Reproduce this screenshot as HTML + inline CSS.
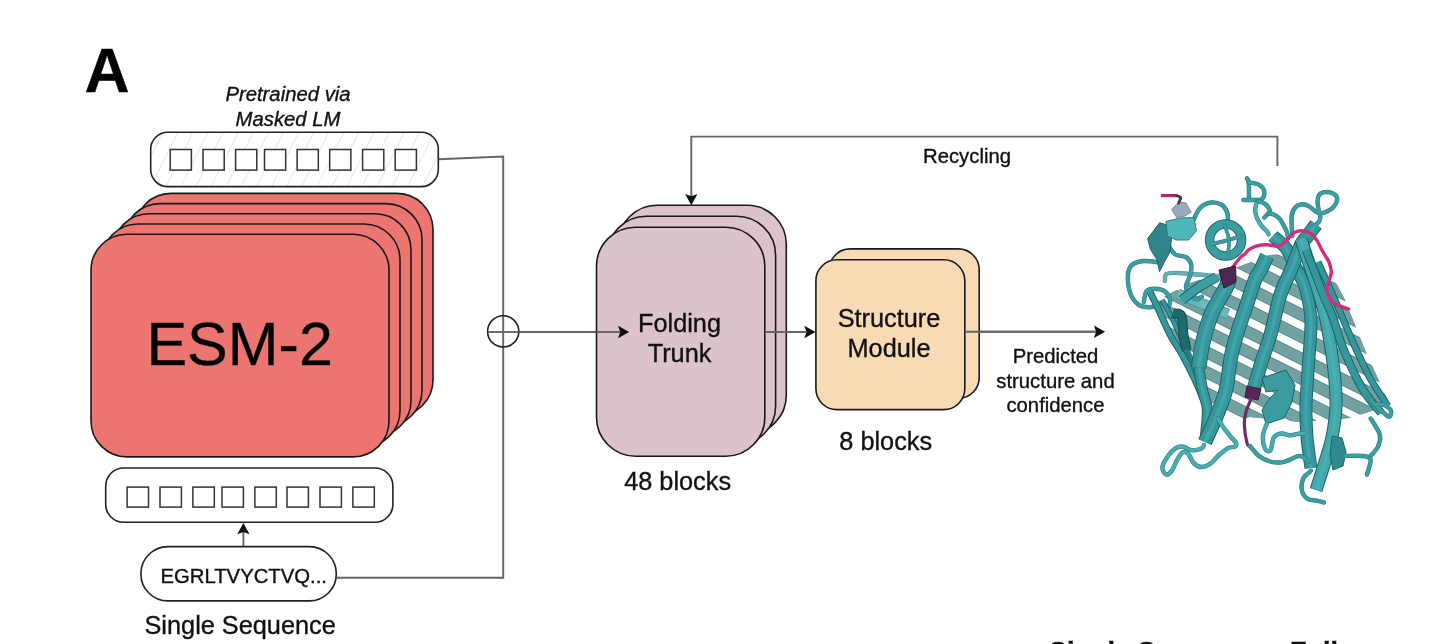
<!DOCTYPE html>
<html><head><meta charset="utf-8">
<style>
html,body{margin:0;padding:0;background:#fff;width:1432px;height:644px;overflow:hidden}
svg{display:block;font-family:"Liberation Sans",sans-serif;will-change:transform}
text{stroke:#111;stroke-width:0.35px}
</style></head>
<body>
<svg width="1432" height="644" viewBox="0 0 1432 644">
<defs>
<pattern id="hatch" patternUnits="userSpaceOnUse" width="13.5" height="13.5" patternTransform="translate(2,0) rotate(26.6)">
<line x1="0" y1="0" x2="0" y2="13.5" stroke="#bde3da" stroke-width="1.2"/>
</pattern>
<path id="ah" d="M0,0 L-11.2,-6.2 L-9,0 L-11.2,6.2 Z" fill="#111"/>
</defs>

<!-- Label A -->
<text x="84.5" y="91.5" font-size="62.5" font-weight="bold" fill="#000">A</text>

<!-- Pretrained via Masked LM -->
<text x="288" y="100.7" font-size="20.3" font-style="italic" text-anchor="middle" fill="#111">Pretrained via</text>
<text x="288" y="125.6" font-size="20.3" font-style="italic" text-anchor="middle" fill="#111">Masked LM</text>

<!-- connectors (gray lines) -->
<g fill="none" stroke="#666" stroke-width="1.9">
<polyline points="438.5,159.2 503.2,156.6 503.2,577.7 336.3,577.7"/>
<line x1="518.8" y1="332" x2="620" y2="332"/>
<line x1="765" y1="332" x2="806" y2="332"/>
<line x1="966" y1="331.8" x2="1096" y2="331.8"/>
<polyline points="1277.4,166 1277.4,136.6 691.3,136.6 691.3,196"/>
<line x1="243.4" y1="546" x2="243.4" y2="532"/>
</g>

<!-- top token box -->
<rect x="150.7" y="132.3" width="287.6" height="54.3" rx="17" fill="url(#hatch)" stroke="#222" stroke-width="1.6"/>
<g fill="#fff" stroke="#333" stroke-width="1.5">
<rect x="170.2" y="149.5" width="21.2" height="20.6"/>
<rect x="203" y="149.5" width="21.2" height="20.6"/>
<rect x="235.6" y="149.5" width="21.2" height="20.6"/>
<rect x="264.5" y="149.5" width="21.2" height="20.6"/>
<rect x="297.1" y="149.5" width="21.2" height="20.6"/>
<rect x="329.7" y="149.5" width="21.2" height="20.6"/>
<rect x="362.6" y="149.5" width="21.2" height="20.6"/>
<rect x="395.2" y="149.5" width="21.2" height="20.6"/>
</g>

<!-- ESM-2 stack -->
<g fill="#ec7571" stroke="#1a1a1a" stroke-width="1.6">
<rect x="135" y="193.4" width="298" height="222.7" rx="36"/>
<rect x="124" y="203.6" width="298" height="222.7" rx="36"/>
<rect x="113" y="213.8" width="298" height="222.7" rx="36"/>
<rect x="102" y="224" width="298" height="222.7" rx="36"/>
<rect x="91" y="234.2" width="298" height="222.7" rx="36"/>
</g>
<text x="239.6" y="364.7" font-size="61" text-anchor="middle" fill="#000">ESM-2</text>

<!-- bottom token box -->
<rect x="105.7" y="468" width="287.2" height="54.3" rx="18" fill="#fff" stroke="#222" stroke-width="1.6"/>
<g fill="#fff" stroke="#333" stroke-width="1.5">
<rect x="127.1" y="487.1" width="21.4" height="20"/>
<rect x="160" y="487.1" width="21.4" height="20"/>
<rect x="192.9" y="487.1" width="21.4" height="20"/>
<rect x="222" y="487.1" width="21.4" height="20"/>
<rect x="254.9" y="487.1" width="21.4" height="20"/>
<rect x="287" y="487.1" width="21.4" height="20"/>
<rect x="320" y="487.1" width="21.4" height="20"/>
<rect x="352.9" y="487.1" width="21.4" height="20"/>
</g>
<path d="M0,0 L-11.2,-6.2 L-9,0 L-11.2,6.2 Z" fill="#111" transform="translate(243.4,523) rotate(-90)"/>

<!-- sequence pill -->
<rect x="140.9" y="546.6" width="195.4" height="54.3" rx="27" fill="#fff" stroke="#222" stroke-width="1.6"/>
<text x="160.5" y="582.6" font-size="20.3" fill="#111">EGRLTVYCTVQ...</text>
<text x="144.5" y="633.9" font-size="25.3" fill="#111">Single Sequence</text>

<!-- circle plus -->
<circle cx="503.2" cy="331.4" r="15.6" fill="none" stroke="#222" stroke-width="1.6"/>
<line x1="487.8" y1="332" x2="518.8" y2="332" stroke="#666" stroke-width="1.9"/>

<!-- Folding trunk -->
<g fill="#dbc2cb" stroke="#1a1a1a" stroke-width="1.6">
<rect x="618" y="205.3" width="168.3" height="229" rx="39"/>
<rect x="607.3" y="216.2" width="168.3" height="229" rx="39"/>
<rect x="596.5" y="227.2" width="168.3" height="229" rx="39"/>
</g>
<line x1="596.5" y1="332" x2="620" y2="332" stroke="#666" stroke-width="1.9"/>
<path d="M0,0 L-11.2,-6.2 L-9,0 L-11.2,6.2 Z" fill="#111" transform="translate(629.2,332)"/>
<path d="M0,0 L-11.2,-6.2 L-9,0 L-11.2,6.2 Z" fill="#111" transform="translate(691.3,205.3) rotate(90)"/>
<text x="679.5" y="331.7" font-size="25.3" text-anchor="middle" fill="#111">Folding</text>
<text x="679.5" y="361.7" font-size="25.3" text-anchor="middle" fill="#111">Trunk</text>
<text x="677.6" y="489.5" font-size="25.3" text-anchor="middle" fill="#111">48 blocks</text>

<!-- Structure module -->
<g fill="#f8dab4" stroke="#1a1a1a" stroke-width="1.6">
<rect x="829.2" y="248.9" width="150" height="149.5" rx="21"/>
<rect x="815.9" y="259.8" width="148.9" height="149.8" rx="21"/>
</g>
<line x1="765" y1="332" x2="806" y2="332" stroke="#666" stroke-width="1.9"/>
<path d="M0,0 L-11.2,-6.2 L-9,0 L-11.2,6.2 Z" fill="#111" transform="translate(815.5,332)"/>
<line x1="965.7" y1="331.8" x2="1096" y2="331.8" stroke="#666" stroke-width="1.9"/>
<path d="M0,0 L-11.2,-6.2 L-9,0 L-11.2,6.2 Z" fill="#111" transform="translate(1105.1,331.8)"/>
<text x="889" y="327.3" font-size="25.3" text-anchor="middle" fill="#111">Structure</text>
<text x="889" y="357.3" font-size="25.3" text-anchor="middle" fill="#111">Module</text>
<text x="885.7" y="450" font-size="25.3" text-anchor="middle" fill="#111">8 blocks</text>

<!-- predicted text -->
<g font-size="20.3" text-anchor="middle" fill="#111">
<text x="1055.5" y="363">Predicted</text>
<text x="1055.5" y="387.8">structure and</text>
<text x="1055.5" y="411.5">confidence</text>
</g>
<text x="967" y="162.7" font-size="20.3" text-anchor="middle" fill="#111">Recycling</text>

<!-- bottom cut text -->
<text x="1049" y="660.5" font-size="27" font-weight="bold" fill="#111">Single Seq</text>
<text x="1290" y="660.5" font-size="27" font-weight="bold" fill="#111">Full</text>

<!-- PROTEIN -->
<g id="protein">
<clipPath id="barrel"><polygon points="1158,300 1190,283 1230,270 1270,255 1320,252 1345,300 1365,350 1390,405 1350,418 1300,422 1250,417 1212,426"/></clipPath>
<g clip-path="url(#barrel)">
<path d="M1150.0,197.0 L1400.0,322.0" fill="none" stroke="#55888a" stroke-width="12" stroke-linecap="butt" stroke-linejoin="round"/>
<path d="M1150.0,197.0 L1400.0,322.0" fill="none" stroke="#72a1a2" stroke-width="10.5" stroke-linecap="butt" stroke-linejoin="round"/>
<path d="M1150.0,218.0 L1400.0,343.0" fill="none" stroke="#55888a" stroke-width="12" stroke-linecap="butt" stroke-linejoin="round"/>
<path d="M1150.0,218.0 L1400.0,343.0" fill="none" stroke="#72a1a2" stroke-width="10.5" stroke-linecap="butt" stroke-linejoin="round"/>
<path d="M1150.0,239.0 L1400.0,364.0" fill="none" stroke="#55888a" stroke-width="12" stroke-linecap="butt" stroke-linejoin="round"/>
<path d="M1150.0,239.0 L1400.0,364.0" fill="none" stroke="#72a1a2" stroke-width="10.5" stroke-linecap="butt" stroke-linejoin="round"/>
<path d="M1150.0,261.0 L1400.0,386.0" fill="none" stroke="#55888a" stroke-width="12" stroke-linecap="butt" stroke-linejoin="round"/>
<path d="M1150.0,261.0 L1400.0,386.0" fill="none" stroke="#72a1a2" stroke-width="10.5" stroke-linecap="butt" stroke-linejoin="round"/>
<path d="M1150.0,283.0 L1400.0,408.0" fill="none" stroke="#55888a" stroke-width="12" stroke-linecap="butt" stroke-linejoin="round"/>
<path d="M1150.0,283.0 L1400.0,408.0" fill="none" stroke="#72a1a2" stroke-width="10.5" stroke-linecap="butt" stroke-linejoin="round"/>
<path d="M1150.0,303.0 L1400.0,428.0" fill="none" stroke="#55888a" stroke-width="12" stroke-linecap="butt" stroke-linejoin="round"/>
<path d="M1150.0,303.0 L1400.0,428.0" fill="none" stroke="#72a1a2" stroke-width="10.5" stroke-linecap="butt" stroke-linejoin="round"/>
<path d="M1150.0,324.0 L1400.0,449.0" fill="none" stroke="#55888a" stroke-width="12" stroke-linecap="butt" stroke-linejoin="round"/>
<path d="M1150.0,324.0 L1400.0,449.0" fill="none" stroke="#72a1a2" stroke-width="10.5" stroke-linecap="butt" stroke-linejoin="round"/>
<path d="M1150.0,344.0 L1400.0,469.0" fill="none" stroke="#55888a" stroke-width="12" stroke-linecap="butt" stroke-linejoin="round"/>
<path d="M1150.0,344.0 L1400.0,469.0" fill="none" stroke="#72a1a2" stroke-width="10.5" stroke-linecap="butt" stroke-linejoin="round"/>
<path d="M1150.0,365.0 L1400.0,490.0" fill="none" stroke="#55888a" stroke-width="12" stroke-linecap="butt" stroke-linejoin="round"/>
<path d="M1150.0,365.0 L1400.0,490.0" fill="none" stroke="#72a1a2" stroke-width="10.5" stroke-linecap="butt" stroke-linejoin="round"/>
</g>
<path d="M1178.0,294.0 L1228.0,314.0" fill="none" stroke="#3f8f92" stroke-width="11" stroke-linecap="butt" stroke-linejoin="round"/>
<path d="M1178.0,294.0 L1228.0,314.0" fill="none" stroke="#6cb9ba" stroke-width="9" stroke-linecap="butt" stroke-linejoin="round"/>
<path d="M1159.6,262.4 C1157.0,262.2 1148.4,260.6 1143.8,261.0 C1139.2,261.4 1134.6,262.6 1131.9,265.0 C1129.2,267.4 1128.1,270.8 1127.9,275.6 C1127.7,280.4 1128.8,289.2 1130.6,294.0 C1132.4,298.8 1135.4,302.4 1138.5,304.6 C1141.6,306.8 1145.5,307.2 1149.0,307.2 C1152.5,307.2 1157.8,305.0 1159.6,304.6" fill="none" stroke="#25777a" stroke-width="4.4" stroke-linecap="round" stroke-linejoin="round"/>
<path d="M1159.6,262.4 C1157.0,262.2 1148.4,260.6 1143.8,261.0 C1139.2,261.4 1134.6,262.6 1131.9,265.0 C1129.2,267.4 1128.1,270.8 1127.9,275.6 C1127.7,280.4 1128.8,289.2 1130.6,294.0 C1132.4,298.8 1135.4,302.4 1138.5,304.6 C1141.6,306.8 1145.5,307.2 1149.0,307.2 C1152.5,307.2 1157.8,305.0 1159.6,304.6" fill="none" stroke="#3c9ea1" stroke-width="3.4" stroke-linecap="round" stroke-linejoin="round"/>
<path d="M1143.8,302.0 C1144.2,300.2 1144.7,293.6 1146.4,291.4 C1148.2,289.2 1151.2,288.8 1154.3,288.8 C1157.4,288.8 1162.3,289.6 1164.9,291.4 C1167.5,293.1 1169.4,296.7 1170.1,299.3 C1170.8,301.9 1169.0,305.9 1168.8,307.2" fill="none" stroke="#25777a" stroke-width="4.4" stroke-linecap="round" stroke-linejoin="round"/>
<path d="M1143.8,302.0 C1144.2,300.2 1144.7,293.6 1146.4,291.4 C1148.2,289.2 1151.2,288.8 1154.3,288.8 C1157.4,288.8 1162.3,289.6 1164.9,291.4 C1167.5,293.1 1169.4,296.7 1170.1,299.3 C1170.8,301.9 1169.0,305.9 1168.8,307.2" fill="none" stroke="#3c9ea1" stroke-width="3.4" stroke-linecap="round" stroke-linejoin="round"/>
<path d="M1164.9,280.8 C1165.1,279.7 1164.5,275.5 1166.2,274.2 C1168.0,272.9 1170.8,272.9 1175.4,272.9 C1180.0,272.9 1187.7,273.8 1193.9,274.2 C1200.1,274.6 1209.3,275.4 1212.4,275.6" fill="none" stroke="#3f8f92" stroke-width="4.4" stroke-linecap="round" stroke-linejoin="round"/>
<path d="M1164.9,280.8 C1165.1,279.7 1164.5,275.5 1166.2,274.2 C1168.0,272.9 1170.8,272.9 1175.4,272.9 C1180.0,272.9 1187.7,273.8 1193.9,274.2 C1200.1,274.6 1209.3,275.4 1212.4,275.6" fill="none" stroke="#62b3b5" stroke-width="3.4" stroke-linecap="round" stroke-linejoin="round"/>
<path d="M1168.8,246.5 C1169.9,247.8 1172.5,252.7 1175.4,254.5 C1178.3,256.3 1183.3,255.4 1186.0,257.1 C1188.7,258.9 1190.6,261.9 1191.3,265.0 C1192.0,268.1 1190.9,272.1 1190.0,275.6 C1189.1,279.1 1186.2,283.0 1186.0,286.1 C1185.8,289.2 1186.8,291.8 1188.6,294.0 C1190.3,296.2 1194.3,298.9 1196.5,299.3 C1198.7,299.8 1200.9,297.1 1201.8,296.7" fill="none" stroke="#25777a" stroke-width="4.4" stroke-linecap="round" stroke-linejoin="round"/>
<path d="M1168.8,246.5 C1169.9,247.8 1172.5,252.7 1175.4,254.5 C1178.3,256.3 1183.3,255.4 1186.0,257.1 C1188.7,258.9 1190.6,261.9 1191.3,265.0 C1192.0,268.1 1190.9,272.1 1190.0,275.6 C1189.1,279.1 1186.2,283.0 1186.0,286.1 C1185.8,289.2 1186.8,291.8 1188.6,294.0 C1190.3,296.2 1194.3,298.9 1196.5,299.3 C1198.7,299.8 1200.9,297.1 1201.8,296.7" fill="none" stroke="#3c9ea1" stroke-width="3.4" stroke-linecap="round" stroke-linejoin="round"/>
<path d="M1194.0,219.0 C1195.0,217.2 1197.2,210.8 1200.0,208.0 C1202.8,205.2 1207.3,203.0 1211.0,202.5 C1214.7,202.0 1219.3,203.4 1222.0,205.0 C1224.7,206.6 1226.0,209.7 1227.0,212.0 C1228.0,214.3 1227.8,217.8 1228.0,219.0" fill="none" stroke="#25777a" stroke-width="4.4" stroke-linecap="round" stroke-linejoin="round"/>
<path d="M1194.0,219.0 C1195.0,217.2 1197.2,210.8 1200.0,208.0 C1202.8,205.2 1207.3,203.0 1211.0,202.5 C1214.7,202.0 1219.3,203.4 1222.0,205.0 C1224.7,206.6 1226.0,209.7 1227.0,212.0 C1228.0,214.3 1227.8,217.8 1228.0,219.0" fill="none" stroke="#3c9ea1" stroke-width="3.4" stroke-linecap="round" stroke-linejoin="round"/>
<path d="M1246.9,178.4 C1247.1,178.8 1248.0,178.9 1248.3,180.5 C1248.6,182.1 1248.9,185.0 1249.0,188.2 C1249.1,191.3 1249.0,197.5 1249.0,199.4" fill="none" stroke="#25777a" stroke-width="4.4" stroke-linecap="round" stroke-linejoin="round"/>
<path d="M1246.9,178.4 C1247.1,178.8 1248.0,178.9 1248.3,180.5 C1248.6,182.1 1248.9,185.0 1249.0,188.2 C1249.1,191.3 1249.0,197.5 1249.0,199.4" fill="none" stroke="#3c9ea1" stroke-width="3.4" stroke-linecap="round" stroke-linejoin="round"/>
<path d="M1249.0,182.6 C1250.4,182.8 1255.1,183.1 1257.4,184.0 C1259.7,184.9 1261.8,186.6 1263.0,188.2 C1264.2,189.8 1264.6,191.9 1264.4,193.8 C1264.2,195.7 1263.0,198.4 1261.6,199.4 C1260.2,200.4 1259.0,199.9 1256.0,200.0 C1253.0,200.1 1245.5,200.0 1243.4,200.0" fill="none" stroke="#25777a" stroke-width="4.4" stroke-linecap="round" stroke-linejoin="round"/>
<path d="M1249.0,182.6 C1250.4,182.8 1255.1,183.1 1257.4,184.0 C1259.7,184.9 1261.8,186.6 1263.0,188.2 C1264.2,189.8 1264.6,191.9 1264.4,193.8 C1264.2,195.7 1263.0,198.4 1261.6,199.4 C1260.2,200.4 1259.0,199.9 1256.0,200.0 C1253.0,200.1 1245.5,200.0 1243.4,200.0" fill="none" stroke="#3c9ea1" stroke-width="3.4" stroke-linecap="round" stroke-linejoin="round"/>
<path d="M1258.0,201.0 C1257.7,201.7 1256.5,203.1 1256.0,204.9 C1255.5,206.7 1255.1,209.6 1255.3,211.9 C1255.5,214.2 1256.4,216.6 1257.4,218.9 C1258.5,221.2 1260.0,223.8 1261.6,225.9 C1263.2,228.0 1265.9,230.1 1267.1,231.5 C1268.2,232.9 1268.3,233.8 1268.5,234.3" fill="none" stroke="#25777a" stroke-width="4.4" stroke-linecap="round" stroke-linejoin="round"/>
<path d="M1258.0,201.0 C1257.7,201.7 1256.5,203.1 1256.0,204.9 C1255.5,206.7 1255.1,209.6 1255.3,211.9 C1255.5,214.2 1256.4,216.6 1257.4,218.9 C1258.5,221.2 1260.0,223.8 1261.6,225.9 C1263.2,228.0 1265.9,230.1 1267.1,231.5 C1268.2,232.9 1268.3,233.8 1268.5,234.3" fill="none" stroke="#4aaeb1" stroke-width="3.4" stroke-linecap="round" stroke-linejoin="round"/>
<path d="M1258.0,201.0 C1259.1,201.4 1262.7,202.4 1264.4,203.5 C1266.2,204.6 1267.6,206.3 1268.5,207.7 C1269.4,209.1 1270.2,210.8 1270.0,212.0 C1269.8,213.2 1268.0,213.8 1267.1,214.7 C1266.2,215.6 1264.9,217.0 1264.4,217.5" fill="none" stroke="#25777a" stroke-width="4.4" stroke-linecap="round" stroke-linejoin="round"/>
<path d="M1258.0,201.0 C1259.1,201.4 1262.7,202.4 1264.4,203.5 C1266.2,204.6 1267.6,206.3 1268.5,207.7 C1269.4,209.1 1270.2,210.8 1270.0,212.0 C1269.8,213.2 1268.0,213.8 1267.1,214.7 C1266.2,215.6 1264.9,217.0 1264.4,217.5" fill="none" stroke="#3c9ea1" stroke-width="3.4" stroke-linecap="round" stroke-linejoin="round"/>
<path d="M1268.5,213.3 C1269.4,213.5 1272.2,213.8 1274.1,214.7 C1276.0,215.6 1278.1,217.0 1279.7,218.9 C1281.3,220.8 1282.7,223.8 1283.9,225.9 C1285.1,228.0 1286.0,229.5 1286.7,231.5 C1287.4,233.5 1287.9,236.9 1288.1,238.0" fill="none" stroke="#25777a" stroke-width="4.4" stroke-linecap="round" stroke-linejoin="round"/>
<path d="M1268.5,213.3 C1269.4,213.5 1272.2,213.8 1274.1,214.7 C1276.0,215.6 1278.1,217.0 1279.7,218.9 C1281.3,220.8 1282.7,223.8 1283.9,225.9 C1285.1,228.0 1286.0,229.5 1286.7,231.5 C1287.4,233.5 1287.9,236.9 1288.1,238.0" fill="none" stroke="#3c9ea1" stroke-width="3.4" stroke-linecap="round" stroke-linejoin="round"/>
<path d="M1292.3,236.0 C1292.2,232.7 1291.1,220.8 1291.6,216.1 C1292.1,211.4 1293.3,209.7 1295.1,207.7 C1296.8,205.7 1299.8,204.4 1302.1,204.2 C1304.4,204.0 1306.8,205.0 1309.1,206.3 C1311.4,207.6 1314.2,210.7 1316.1,211.9 C1318.0,213.1 1318.7,213.3 1320.3,213.3 C1321.9,213.3 1323.7,212.8 1325.8,211.9 C1327.9,211.0 1330.9,209.6 1332.8,207.7 C1334.7,205.8 1336.5,202.8 1337.0,200.7 C1337.5,198.6 1336.8,196.6 1335.6,195.2 C1334.4,193.8 1332.1,192.9 1330.0,192.4 C1327.9,191.9 1324.8,191.9 1323.0,192.4 C1321.2,192.9 1319.8,193.6 1318.9,195.2 C1318.0,196.8 1317.5,199.5 1317.5,202.1 C1317.5,204.7 1318.4,207.9 1318.9,210.5 C1319.4,213.1 1320.3,215.6 1320.3,217.5 C1320.3,219.4 1319.6,220.5 1318.9,221.7 C1318.2,222.9 1316.6,224.0 1316.1,224.5" fill="none" stroke="#25777a" stroke-width="4.4" stroke-linecap="round" stroke-linejoin="round"/>
<path d="M1292.3,236.0 C1292.2,232.7 1291.1,220.8 1291.6,216.1 C1292.1,211.4 1293.3,209.7 1295.1,207.7 C1296.8,205.7 1299.8,204.4 1302.1,204.2 C1304.4,204.0 1306.8,205.0 1309.1,206.3 C1311.4,207.6 1314.2,210.7 1316.1,211.9 C1318.0,213.1 1318.7,213.3 1320.3,213.3 C1321.9,213.3 1323.7,212.8 1325.8,211.9 C1327.9,211.0 1330.9,209.6 1332.8,207.7 C1334.7,205.8 1336.5,202.8 1337.0,200.7 C1337.5,198.6 1336.8,196.6 1335.6,195.2 C1334.4,193.8 1332.1,192.9 1330.0,192.4 C1327.9,191.9 1324.8,191.9 1323.0,192.4 C1321.2,192.9 1319.8,193.6 1318.9,195.2 C1318.0,196.8 1317.5,199.5 1317.5,202.1 C1317.5,204.7 1318.4,207.9 1318.9,210.5 C1319.4,213.1 1320.3,215.6 1320.3,217.5 C1320.3,219.4 1319.6,220.5 1318.9,221.7 C1318.2,222.9 1316.6,224.0 1316.1,224.5" fill="none" stroke="#3c9ea1" stroke-width="3.4" stroke-linecap="round" stroke-linejoin="round"/>
<path d="M1150.0,292.0 C1151.2,294.5 1154.0,299.8 1157.4,307.0 C1160.8,314.2 1166.1,326.9 1170.4,335.2 C1174.8,343.5 1179.2,349.0 1183.5,357.0 C1187.8,365.0 1192.9,375.0 1196.5,383.0 C1200.1,391.0 1203.3,398.8 1205.2,405.0 C1207.1,411.2 1207.5,417.5 1208.0,420.0" fill="none" stroke="#1c6265" stroke-width="7" stroke-linecap="butt" stroke-linejoin="round"/>
<path d="M1150.0,292.0 C1151.2,294.5 1154.0,299.8 1157.4,307.0 C1160.8,314.2 1166.1,326.9 1170.4,335.2 C1174.8,343.5 1179.2,349.0 1183.5,357.0 C1187.8,365.0 1192.9,375.0 1196.5,383.0 C1200.1,391.0 1203.3,398.8 1205.2,405.0 C1207.1,411.2 1207.5,417.5 1208.0,420.0" fill="none" stroke="#35979b" stroke-width="5" stroke-linecap="butt" stroke-linejoin="round"/>
<path d="M1162.0,300.0 C1163.7,303.0 1168.7,311.3 1172.0,318.0 C1175.3,324.7 1178.7,332.7 1182.0,340.0 C1185.3,347.3 1189.0,354.5 1192.0,362.0 C1195.0,369.5 1197.5,377.0 1200.0,385.0 C1202.5,393.0 1205.8,405.8 1207.0,410.0" fill="none" stroke="#1c6265" stroke-width="5.5" stroke-linecap="butt" stroke-linejoin="round"/>
<path d="M1162.0,300.0 C1163.7,303.0 1168.7,311.3 1172.0,318.0 C1175.3,324.7 1178.7,332.7 1182.0,340.0 C1185.3,347.3 1189.0,354.5 1192.0,362.0 C1195.0,369.5 1197.5,377.0 1200.0,385.0 C1202.5,393.0 1205.8,405.8 1207.0,410.0" fill="none" stroke="#35979b" stroke-width="3.5" stroke-linecap="butt" stroke-linejoin="round"/>
<path d="M1172.6,313.5 C1174.0,313.9 1179.5,312.1 1181.3,315.7 C1183.1,319.3 1182.6,329.4 1183.5,335.2 C1184.4,341.0 1186.2,347.9 1186.7,350.4" fill="none" stroke="#154d50" stroke-width="10" stroke-linecap="butt" stroke-linejoin="round"/>
<path d="M1172.6,313.5 C1174.0,313.9 1179.5,312.1 1181.3,315.7 C1183.1,319.3 1182.6,329.4 1183.5,335.2 C1184.4,341.0 1186.2,347.9 1186.7,350.4" fill="none" stroke="#1f6a6d" stroke-width="8" stroke-linecap="butt" stroke-linejoin="round"/>
<path d="M1186.7,350.4 L1194.3,372.2" fill="none" stroke="#2a7c7f" stroke-width="3.5" stroke-linecap="round" stroke-linejoin="round"/>
<path d="M1228.0,274.0 C1227.8,275.9 1229.7,278.6 1227.0,285.2 C1224.3,291.8 1215.7,304.1 1211.7,313.5 C1207.7,322.9 1205.2,332.6 1203.0,341.7 C1200.8,350.8 1199.4,363.4 1198.7,367.8" fill="none" stroke="#1c6265" stroke-width="15.5" stroke-linecap="butt" stroke-linejoin="round"/>
<path d="M1228.0,274.0 C1227.8,275.9 1229.7,278.6 1227.0,285.2 C1224.3,291.8 1215.7,304.1 1211.7,313.5 C1207.7,322.9 1205.2,332.6 1203.0,341.7 C1200.8,350.8 1199.4,363.4 1198.7,367.8" fill="none" stroke="#35979b" stroke-width="13.5" stroke-linecap="butt" stroke-linejoin="round"/>
<path d="M1228.0,274.0 C1227.8,275.9 1229.7,278.6 1227.0,285.2 C1224.3,291.8 1215.7,304.1 1211.7,313.5 C1207.7,322.9 1205.2,332.6 1203.0,341.7 C1200.8,350.8 1199.4,363.4 1198.7,367.8" fill="none" stroke="#58babd" stroke-width="4.05" stroke-linecap="butt" stroke-linejoin="round" opacity="0.4"/>
<path d="M1198.7,367.8 C1199.4,371.8 1201.5,384.7 1203.0,391.7 C1204.5,398.7 1207.1,401.9 1207.4,410.0 C1207.7,418.1 1205.4,435.0 1205.0,440.0" fill="none" stroke="#1c6265" stroke-width="11" stroke-linecap="butt" stroke-linejoin="round"/>
<path d="M1198.7,367.8 C1199.4,371.8 1201.5,384.7 1203.0,391.7 C1204.5,398.7 1207.1,401.9 1207.4,410.0 C1207.7,418.1 1205.4,435.0 1205.0,440.0" fill="none" stroke="#35979b" stroke-width="9" stroke-linecap="butt" stroke-linejoin="round"/>
<path d="M1198.7,367.8 C1199.4,371.8 1201.5,384.7 1203.0,391.7 C1204.5,398.7 1207.1,401.9 1207.4,410.0 C1207.7,418.1 1205.4,435.0 1205.0,440.0" fill="none" stroke="#58babd" stroke-width="2.6999999999999997" stroke-linecap="butt" stroke-linejoin="round" opacity="0.4"/>
<path d="M1267.0,256.0 C1266.1,258.0 1263.7,264.0 1261.7,268.0 C1259.7,272.0 1257.5,273.7 1254.9,280.0 C1252.4,286.3 1249.2,297.1 1246.4,305.6 C1243.6,314.1 1240.4,322.6 1237.8,331.2 C1235.2,339.8 1233.0,347.1 1231.0,356.9 C1229.0,366.7 1228.2,380.3 1225.9,390.0 C1223.6,399.7 1220.5,406.3 1217.0,415.0 C1213.5,423.7 1207.0,437.5 1205.0,442.0" fill="none" stroke="#1c6265" stroke-width="14.5" stroke-linecap="butt" stroke-linejoin="round"/>
<path d="M1267.0,256.0 C1266.1,258.0 1263.7,264.0 1261.7,268.0 C1259.7,272.0 1257.5,273.7 1254.9,280.0 C1252.4,286.3 1249.2,297.1 1246.4,305.6 C1243.6,314.1 1240.4,322.6 1237.8,331.2 C1235.2,339.8 1233.0,347.1 1231.0,356.9 C1229.0,366.7 1228.2,380.3 1225.9,390.0 C1223.6,399.7 1220.5,406.3 1217.0,415.0 C1213.5,423.7 1207.0,437.5 1205.0,442.0" fill="none" stroke="#35979b" stroke-width="12.5" stroke-linecap="butt" stroke-linejoin="round"/>
<path d="M1267.0,256.0 C1266.1,258.0 1263.7,264.0 1261.7,268.0 C1259.7,272.0 1257.5,273.7 1254.9,280.0 C1252.4,286.3 1249.2,297.1 1246.4,305.6 C1243.6,314.1 1240.4,322.6 1237.8,331.2 C1235.2,339.8 1233.0,347.1 1231.0,356.9 C1229.0,366.7 1228.2,380.3 1225.9,390.0 C1223.6,399.7 1220.5,406.3 1217.0,415.0 C1213.5,423.7 1207.0,437.5 1205.0,442.0" fill="none" stroke="#58babd" stroke-width="3.75" stroke-linecap="butt" stroke-linejoin="round" opacity="0.4"/>
<path d="M1272.9,236.0 C1275.1,238.0 1282.2,242.9 1285.9,248.0 C1289.6,253.1 1292.1,260.4 1295.2,266.6 C1298.3,272.8 1302.2,279.0 1304.5,285.2 C1306.8,291.4 1307.9,297.4 1309.0,304.0 C1310.1,310.6 1311.2,313.8 1311.0,325.0 C1310.8,336.2 1308.8,357.5 1308.0,371.0 C1307.2,384.5 1306.2,395.0 1306.0,406.0 C1305.8,417.0 1306.2,426.7 1307.0,437.0 C1307.8,447.3 1310.3,462.8 1311.0,468.0" fill="none" stroke="#1c6265" stroke-width="13" stroke-linecap="butt" stroke-linejoin="round"/>
<path d="M1272.9,236.0 C1275.1,238.0 1282.2,242.9 1285.9,248.0 C1289.6,253.1 1292.1,260.4 1295.2,266.6 C1298.3,272.8 1302.2,279.0 1304.5,285.2 C1306.8,291.4 1307.9,297.4 1309.0,304.0 C1310.1,310.6 1311.2,313.8 1311.0,325.0 C1310.8,336.2 1308.8,357.5 1308.0,371.0 C1307.2,384.5 1306.2,395.0 1306.0,406.0 C1305.8,417.0 1306.2,426.7 1307.0,437.0 C1307.8,447.3 1310.3,462.8 1311.0,468.0" fill="none" stroke="#35979b" stroke-width="11" stroke-linecap="butt" stroke-linejoin="round"/>
<path d="M1272.9,236.0 C1275.1,238.0 1282.2,242.9 1285.9,248.0 C1289.6,253.1 1292.1,260.4 1295.2,266.6 C1298.3,272.8 1302.2,279.0 1304.5,285.2 C1306.8,291.4 1307.9,297.4 1309.0,304.0 C1310.1,310.6 1311.2,313.8 1311.0,325.0 C1310.8,336.2 1308.8,357.5 1308.0,371.0 C1307.2,384.5 1306.2,395.0 1306.0,406.0 C1305.8,417.0 1306.2,426.7 1307.0,437.0 C1307.8,447.3 1310.3,462.8 1311.0,468.0" fill="none" stroke="#58babd" stroke-width="3.3" stroke-linecap="butt" stroke-linejoin="round" opacity="0.4"/>
<path d="M1316.1,224.5 C1314.7,226.4 1310.3,232.2 1307.7,235.7 C1305.1,239.2 1303.5,239.8 1300.7,245.5 C1297.9,251.2 1294.5,261.6 1291.0,270.0 C1287.5,278.4 1283.4,285.1 1280.0,296.0 C1276.6,306.9 1273.5,324.3 1270.4,335.2 C1267.4,346.1 1264.4,352.5 1261.7,361.3 C1259.0,370.1 1255.3,383.6 1254.0,388.0" fill="none" stroke="#1c6265" stroke-width="14" stroke-linecap="butt" stroke-linejoin="round"/>
<path d="M1316.1,224.5 C1314.7,226.4 1310.3,232.2 1307.7,235.7 C1305.1,239.2 1303.5,239.8 1300.7,245.5 C1297.9,251.2 1294.5,261.6 1291.0,270.0 C1287.5,278.4 1283.4,285.1 1280.0,296.0 C1276.6,306.9 1273.5,324.3 1270.4,335.2 C1267.4,346.1 1264.4,352.5 1261.7,361.3 C1259.0,370.1 1255.3,383.6 1254.0,388.0" fill="none" stroke="#35979b" stroke-width="12" stroke-linecap="butt" stroke-linejoin="round"/>
<path d="M1316.1,224.5 C1314.7,226.4 1310.3,232.2 1307.7,235.7 C1305.1,239.2 1303.5,239.8 1300.7,245.5 C1297.9,251.2 1294.5,261.6 1291.0,270.0 C1287.5,278.4 1283.4,285.1 1280.0,296.0 C1276.6,306.9 1273.5,324.3 1270.4,335.2 C1267.4,346.1 1264.4,352.5 1261.7,361.3 C1259.0,370.1 1255.3,383.6 1254.0,388.0" fill="none" stroke="#58babd" stroke-width="3.5999999999999996" stroke-linecap="butt" stroke-linejoin="round" opacity="0.4"/>
<polygon points="1247.0,386.0 1261.0,389.0 1258.0,400.0 1245.0,397.0" fill="#5a2456" stroke="#3a1a3a" stroke-width="1" stroke-linejoin="round"/>
<path d="M1300.8,238.6 C1302.3,243.3 1307.0,257.3 1310.1,266.6 C1313.2,275.9 1316.6,284.8 1319.4,294.5 C1322.2,304.2 1324.6,312.2 1327.0,325.0 C1329.4,337.8 1332.5,357.5 1334.0,371.0 C1335.5,384.5 1336.3,395.0 1336.0,406.0 C1335.7,417.0 1334.0,427.2 1332.0,437.0 C1330.0,446.8 1326.7,456.2 1324.0,465.0 C1321.3,473.8 1317.3,485.8 1316.0,490.0" fill="none" stroke="#1c6265" stroke-width="13" stroke-linecap="butt" stroke-linejoin="round"/>
<path d="M1300.8,238.6 C1302.3,243.3 1307.0,257.3 1310.1,266.6 C1313.2,275.9 1316.6,284.8 1319.4,294.5 C1322.2,304.2 1324.6,312.2 1327.0,325.0 C1329.4,337.8 1332.5,357.5 1334.0,371.0 C1335.5,384.5 1336.3,395.0 1336.0,406.0 C1335.7,417.0 1334.0,427.2 1332.0,437.0 C1330.0,446.8 1326.7,456.2 1324.0,465.0 C1321.3,473.8 1317.3,485.8 1316.0,490.0" fill="none" stroke="#42a8ac" stroke-width="11" stroke-linecap="butt" stroke-linejoin="round"/>
<path d="M1300.8,238.6 C1302.3,243.3 1307.0,257.3 1310.1,266.6 C1313.2,275.9 1316.6,284.8 1319.4,294.5 C1322.2,304.2 1324.6,312.2 1327.0,325.0 C1329.4,337.8 1332.5,357.5 1334.0,371.0 C1335.5,384.5 1336.3,395.0 1336.0,406.0 C1335.7,417.0 1334.0,427.2 1332.0,437.0 C1330.0,446.8 1326.7,456.2 1324.0,465.0 C1321.3,473.8 1317.3,485.8 1316.0,490.0" fill="none" stroke="#58babd" stroke-width="3.3" stroke-linecap="butt" stroke-linejoin="round" opacity="0.4"/>
<path d="M1306.0,250.0 C1307.5,253.8 1312.3,266.0 1315.0,273.0 C1317.7,280.0 1319.0,284.5 1322.0,292.0 C1325.0,299.5 1329.5,308.7 1333.0,318.0 C1336.5,327.3 1338.2,336.3 1343.0,348.0 C1347.8,359.7 1355.7,377.2 1362.0,388.0 C1368.3,398.8 1377.8,408.8 1381.0,413.0" fill="none" stroke="#1c6265" stroke-width="8.5" stroke-linecap="butt" stroke-linejoin="round"/>
<path d="M1306.0,250.0 C1307.5,253.8 1312.3,266.0 1315.0,273.0 C1317.7,280.0 1319.0,284.5 1322.0,292.0 C1325.0,299.5 1329.5,308.7 1333.0,318.0 C1336.5,327.3 1338.2,336.3 1343.0,348.0 C1347.8,359.7 1355.7,377.2 1362.0,388.0 C1368.3,398.8 1377.8,408.8 1381.0,413.0" fill="none" stroke="#35979b" stroke-width="6.5" stroke-linecap="butt" stroke-linejoin="round"/>
<path d="M1318.0,262.0 C1320.8,268.3 1329.3,287.0 1335.0,300.0 C1340.7,313.0 1346.2,327.0 1352.0,340.0 C1357.8,353.0 1364.0,367.0 1370.0,378.0 C1376.0,389.0 1385.0,401.3 1388.0,406.0" fill="none" stroke="#1c6265" stroke-width="7" stroke-linecap="butt" stroke-linejoin="round"/>
<path d="M1318.0,262.0 C1320.8,268.3 1329.3,287.0 1335.0,300.0 C1340.7,313.0 1346.2,327.0 1352.0,340.0 C1357.8,353.0 1364.0,367.0 1370.0,378.0 C1376.0,389.0 1385.0,401.3 1388.0,406.0" fill="none" stroke="#35979b" stroke-width="5" stroke-linecap="butt" stroke-linejoin="round"/>
<circle cx="1225.6" cy="240" r="16" fill="none" stroke="#1f6669" stroke-width="9.5"/>
<circle cx="1225.6" cy="240" r="16" fill="none" stroke="#3b9da1" stroke-width="7.5"/>
<path d="M1211.0,244.0 C1213.3,243.5 1220.0,242.3 1225.0,241.0 C1230.0,239.7 1238.3,236.8 1241.0,236.0" fill="none" stroke="#25777a" stroke-width="4" stroke-linecap="round" stroke-linejoin="round"/>
<path d="M1211.0,244.0 C1213.3,243.5 1220.0,242.3 1225.0,241.0 C1230.0,239.7 1238.3,236.8 1241.0,236.0" fill="none" stroke="#3c9ea1" stroke-width="3" stroke-linecap="round" stroke-linejoin="round"/>
<path d="M1225.0,226.0 C1225.7,228.3 1228.5,235.3 1229.0,240.0 C1229.5,244.7 1228.2,251.7 1228.0,254.0" fill="none" stroke="#25777a" stroke-width="3.6" stroke-linecap="round" stroke-linejoin="round"/>
<path d="M1225.0,226.0 C1225.7,228.3 1228.5,235.3 1229.0,240.0 C1229.5,244.7 1228.2,251.7 1228.0,254.0" fill="none" stroke="#3c9ea1" stroke-width="2.6" stroke-linecap="round" stroke-linejoin="round"/>
<polygon points="1147.7,238.6 1159.6,222.8 1168.8,225.4 1171.5,238.6 1170.1,251.8 1164.9,261.0 1159.6,271.6 1157.0,259.7 1150.4,249.2" fill="#2f8589" stroke="#1d5f62" stroke-width="1" stroke-linejoin="round"/>
<polygon points="1166.0,221.5 1180.0,218.0 1194.0,217.5 1196.5,230.7 1188.6,240.0 1176.7,240.0 1167.5,236.0" fill="#4fb6b9" stroke="#2a7c7f" stroke-width="1" stroke-linejoin="round"/>
<polygon points="1171.5,209.6 1179.4,201.7 1186.0,203.0 1191.3,212.2 1184.7,216.2 1176.7,217.5" fill="#9aa9bd" stroke="#6b8294" stroke-width="0.8" stroke-linejoin="round"/>
<path d="M1160.9,195.6 L1176.7,195.6" fill="none" stroke="#b0256e" stroke-width="3.2" stroke-linecap="butt" stroke-linejoin="round"/>
<path d="M1176.7,195.6 C1177.4,195.9 1180.4,196.5 1180.7,197.7 C1181.0,198.9 1178.9,202.1 1178.6,203.0" fill="none" stroke="#3b4048" stroke-width="3" stroke-linecap="round" stroke-linejoin="round"/>
<path d="M1182.0,300.0 C1184.8,297.8 1193.2,290.8 1199.0,287.0 C1204.8,283.2 1214.0,278.7 1217.0,277.0" fill="none" stroke="#1c6265" stroke-width="10" stroke-linecap="butt" stroke-linejoin="round"/>
<path d="M1182.0,300.0 C1184.8,297.8 1193.2,290.8 1199.0,287.0 C1204.8,283.2 1214.0,278.7 1217.0,277.0" fill="none" stroke="#3c9ea2" stroke-width="8" stroke-linecap="butt" stroke-linejoin="round"/>
<polygon points="1262.0,378.0 1286.0,370.0 1295.0,385.0 1292.0,402.0 1284.0,418.0 1266.0,424.0 1262.0,410.0 1270.0,398.0 1278.0,390.0 1266.0,392.0" fill="#3a9ca0" stroke="#1d6467" stroke-width="1" stroke-linejoin="round"/>
<polygon points="1332.0,436.0 1342.0,438.0 1346.0,452.0 1343.0,466.0 1333.0,470.0 1330.0,455.0" fill="#2f8a8e" stroke="#1d6467" stroke-width="1" stroke-linejoin="round"/>
<path d="M1204.0,445.0 C1203.6,445.6 1203.5,447.5 1201.5,448.4 C1199.5,449.3 1195.1,450.6 1192.0,450.3 C1188.9,450.0 1185.8,446.9 1183.0,446.6 C1180.2,446.3 1177.9,446.8 1175.4,448.4 C1172.9,450.0 1170.2,452.9 1168.0,456.0 C1165.8,459.1 1162.7,463.9 1162.4,467.0 C1162.1,470.1 1164.5,473.9 1166.0,474.5 C1167.5,475.1 1169.8,473.3 1171.7,470.8 C1173.6,468.3 1175.4,462.7 1177.3,459.6 C1179.2,456.5 1181.2,452.9 1183.0,452.0 C1184.8,451.1 1186.6,452.1 1188.4,454.0 C1190.2,455.9 1191.8,461.2 1194.0,463.4 C1196.2,465.6 1198.7,467.0 1201.5,467.0 C1204.3,467.0 1208.0,465.2 1210.8,463.4 C1213.5,461.6 1215.2,458.5 1218.0,456.0 C1220.8,453.5 1224.8,450.0 1227.6,448.4 C1230.4,446.8 1233.6,447.5 1235.0,446.6 C1236.4,445.7 1236.6,444.4 1236.0,442.9 C1235.4,441.3 1233.3,439.8 1231.3,437.3 C1229.3,434.8 1226.0,431.1 1223.8,428.0 C1221.6,424.9 1219.0,420.2 1218.0,418.6" fill="none" stroke="#25777a" stroke-width="4.4" stroke-linecap="round" stroke-linejoin="round"/>
<path d="M1204.0,445.0 C1203.6,445.6 1203.5,447.5 1201.5,448.4 C1199.5,449.3 1195.1,450.6 1192.0,450.3 C1188.9,450.0 1185.8,446.9 1183.0,446.6 C1180.2,446.3 1177.9,446.8 1175.4,448.4 C1172.9,450.0 1170.2,452.9 1168.0,456.0 C1165.8,459.1 1162.7,463.9 1162.4,467.0 C1162.1,470.1 1164.5,473.9 1166.0,474.5 C1167.5,475.1 1169.8,473.3 1171.7,470.8 C1173.6,468.3 1175.4,462.7 1177.3,459.6 C1179.2,456.5 1181.2,452.9 1183.0,452.0 C1184.8,451.1 1186.6,452.1 1188.4,454.0 C1190.2,455.9 1191.8,461.2 1194.0,463.4 C1196.2,465.6 1198.7,467.0 1201.5,467.0 C1204.3,467.0 1208.0,465.2 1210.8,463.4 C1213.5,461.6 1215.2,458.5 1218.0,456.0 C1220.8,453.5 1224.8,450.0 1227.6,448.4 C1230.4,446.8 1233.6,447.5 1235.0,446.6 C1236.4,445.7 1236.6,444.4 1236.0,442.9 C1235.4,441.3 1233.3,439.8 1231.3,437.3 C1229.3,434.8 1226.0,431.1 1223.8,428.0 C1221.6,424.9 1219.0,420.2 1218.0,418.6" fill="none" stroke="#4aaeb1" stroke-width="3.4" stroke-linecap="round" stroke-linejoin="round"/>
<path d="M1251.0,399.0 C1250.2,401.2 1247.1,407.8 1246.0,412.0 C1244.9,416.2 1244.1,418.8 1244.3,424.0 C1244.5,429.2 1246.0,439.3 1247.0,443.0 C1248.0,446.7 1249.5,445.5 1250.0,446.0" fill="none" stroke="#6a2f66" stroke-width="3.2" stroke-linecap="round" stroke-linejoin="round"/>
<path d="M1250.0,446.0 C1251.5,447.7 1255.7,453.4 1259.0,456.0 C1262.3,458.6 1266.2,460.4 1270.0,461.5 C1273.8,462.6 1278.3,462.7 1281.6,462.4 C1284.9,462.1 1286.9,460.7 1290.0,459.6 C1293.1,458.5 1296.8,455.7 1300.0,456.0 C1303.2,456.3 1307.5,460.6 1309.0,461.5" fill="none" stroke="#25777a" stroke-width="4.4" stroke-linecap="round" stroke-linejoin="round"/>
<path d="M1250.0,446.0 C1251.5,447.7 1255.7,453.4 1259.0,456.0 C1262.3,458.6 1266.2,460.4 1270.0,461.5 C1273.8,462.6 1278.3,462.7 1281.6,462.4 C1284.9,462.1 1286.9,460.7 1290.0,459.6 C1293.1,458.5 1296.8,455.7 1300.0,456.0 C1303.2,456.3 1307.5,460.6 1309.0,461.5" fill="none" stroke="#3c9ea1" stroke-width="3.4" stroke-linecap="round" stroke-linejoin="round"/>
<path d="M1266.7,424.0 C1266.1,425.9 1263.3,431.3 1263.0,435.4 C1262.7,439.5 1263.6,445.9 1264.8,448.4 C1266.0,450.9 1268.9,452.1 1270.4,450.3 C1271.9,448.5 1272.1,440.1 1274.0,437.3 C1275.9,434.5 1278.9,433.8 1281.6,433.5 C1284.3,433.2 1286.9,435.4 1290.0,435.4 C1293.1,435.4 1297.5,433.9 1300.0,433.5 C1302.5,433.1 1304.2,433.1 1305.0,433.0" fill="none" stroke="#25777a" stroke-width="4.4" stroke-linecap="round" stroke-linejoin="round"/>
<path d="M1266.7,424.0 C1266.1,425.9 1263.3,431.3 1263.0,435.4 C1262.7,439.5 1263.6,445.9 1264.8,448.4 C1266.0,450.9 1268.9,452.1 1270.4,450.3 C1271.9,448.5 1272.1,440.1 1274.0,437.3 C1275.9,434.5 1278.9,433.8 1281.6,433.5 C1284.3,433.2 1286.9,435.4 1290.0,435.4 C1293.1,435.4 1297.5,433.9 1300.0,433.5 C1302.5,433.1 1304.2,433.1 1305.0,433.0" fill="none" stroke="#4aaeb1" stroke-width="3.4" stroke-linecap="round" stroke-linejoin="round"/>
<path d="M1311.0,470.8 C1309.8,472.0 1305.0,474.9 1303.5,478.0 C1302.0,481.1 1301.1,485.9 1301.7,489.4 C1302.3,492.9 1304.8,496.9 1307.3,498.8 C1309.8,500.7 1313.8,500.0 1316.6,500.6 C1319.4,501.2 1322.8,502.2 1324.0,502.5" fill="none" stroke="#25777a" stroke-width="4.4" stroke-linecap="round" stroke-linejoin="round"/>
<path d="M1311.0,470.8 C1309.8,472.0 1305.0,474.9 1303.5,478.0 C1302.0,481.1 1301.1,485.9 1301.7,489.4 C1302.3,492.9 1304.8,496.9 1307.3,498.8 C1309.8,500.7 1313.8,500.0 1316.6,500.6 C1319.4,501.2 1322.8,502.2 1324.0,502.5" fill="none" stroke="#3c9ea1" stroke-width="3.4" stroke-linecap="round" stroke-linejoin="round"/>
<path d="M1344.5,456.0 C1347.6,456.0 1358.7,455.4 1363.0,456.0 C1367.3,456.6 1369.9,456.5 1370.6,459.6 C1371.3,462.7 1367.6,472.0 1367.0,474.5" fill="none" stroke="#25777a" stroke-width="4.4" stroke-linecap="round" stroke-linejoin="round"/>
<path d="M1344.5,456.0 C1347.6,456.0 1358.7,455.4 1363.0,456.0 C1367.3,456.6 1369.9,456.5 1370.6,459.6 C1371.3,462.7 1367.6,472.0 1367.0,474.5" fill="none" stroke="#3c9ea1" stroke-width="3.4" stroke-linecap="round" stroke-linejoin="round"/>
<path d="M1370.6,456.0 C1371.8,454.4 1376.4,450.0 1378.0,446.6 C1379.6,443.2 1380.6,439.1 1380.0,435.4 C1379.4,431.7 1375.9,427.0 1374.3,424.2 C1372.7,421.4 1371.2,419.5 1370.6,418.6" fill="none" stroke="#25777a" stroke-width="4.4" stroke-linecap="round" stroke-linejoin="round"/>
<path d="M1370.6,456.0 C1371.8,454.4 1376.4,450.0 1378.0,446.6 C1379.6,443.2 1380.6,439.1 1380.0,435.4 C1379.4,431.7 1375.9,427.0 1374.3,424.2 C1372.7,421.4 1371.2,419.5 1370.6,418.6" fill="none" stroke="#3c9ea1" stroke-width="3.4" stroke-linecap="round" stroke-linejoin="round"/>
<path d="M1370.6,400.0 C1372.5,401.8 1378.7,408.2 1381.8,411.0 C1384.9,413.8 1387.5,416.8 1389.0,416.8 C1390.5,416.8 1391.6,412.9 1391.0,411.0 C1390.4,409.1 1387.7,406.8 1385.5,405.6 C1383.3,404.4 1379.2,404.3 1378.0,404.0" fill="none" stroke="#25777a" stroke-width="4.4" stroke-linecap="round" stroke-linejoin="round"/>
<path d="M1370.6,400.0 C1372.5,401.8 1378.7,408.2 1381.8,411.0 C1384.9,413.8 1387.5,416.8 1389.0,416.8 C1390.5,416.8 1391.6,412.9 1391.0,411.0 C1390.4,409.1 1387.7,406.8 1385.5,405.6 C1383.3,404.4 1379.2,404.3 1378.0,404.0" fill="none" stroke="#3c9ea1" stroke-width="3.4" stroke-linecap="round" stroke-linejoin="round"/>
<path d="M1232.0,268.0 C1233.3,266.3 1237.9,260.4 1240.0,258.0 C1242.1,255.7 1243.3,255.3 1244.8,253.9 C1246.3,252.5 1247.1,251.0 1249.0,249.7 C1250.9,248.4 1253.0,247.0 1256.0,246.2 C1259.0,245.4 1263.6,244.8 1267.1,244.8 C1270.6,244.8 1274.3,246.3 1276.9,246.2 C1279.5,246.1 1280.6,245.4 1282.5,244.1 C1284.4,242.8 1286.2,240.4 1288.1,238.5 C1290.0,236.6 1291.6,234.2 1293.7,232.9 C1295.8,231.6 1298.4,230.9 1300.7,230.8 C1303.0,230.7 1305.6,231.4 1307.7,232.2 C1309.8,233.0 1311.7,234.2 1313.3,235.7 C1314.9,237.2 1316.1,239.0 1317.5,241.3 C1318.9,243.6 1320.3,247.1 1321.7,249.7 C1323.1,252.3 1324.6,254.6 1325.8,256.7 C1327.0,258.8 1328.1,259.4 1329.0,262.0 C1329.9,264.6 1331.3,268.8 1331.3,272.0 C1331.3,275.2 1329.7,277.7 1329.0,281.0 C1328.3,284.3 1326.2,288.1 1327.0,291.7 C1327.8,295.3 1329.9,299.7 1333.5,302.6 C1337.1,305.5 1346.2,307.9 1348.7,309.0" fill="none" stroke="#d42c7d" stroke-width="3.4" stroke-linecap="round" stroke-linejoin="round"/>
<polygon points="1219.0,270.0 1235.6,266.0 1236.0,282.0 1224.0,288.0" fill="#4b2a52" stroke="#2e1a33" stroke-width="1" stroke-linejoin="round"/>
</g><!--endprotein-->

</svg>
</body></html>
